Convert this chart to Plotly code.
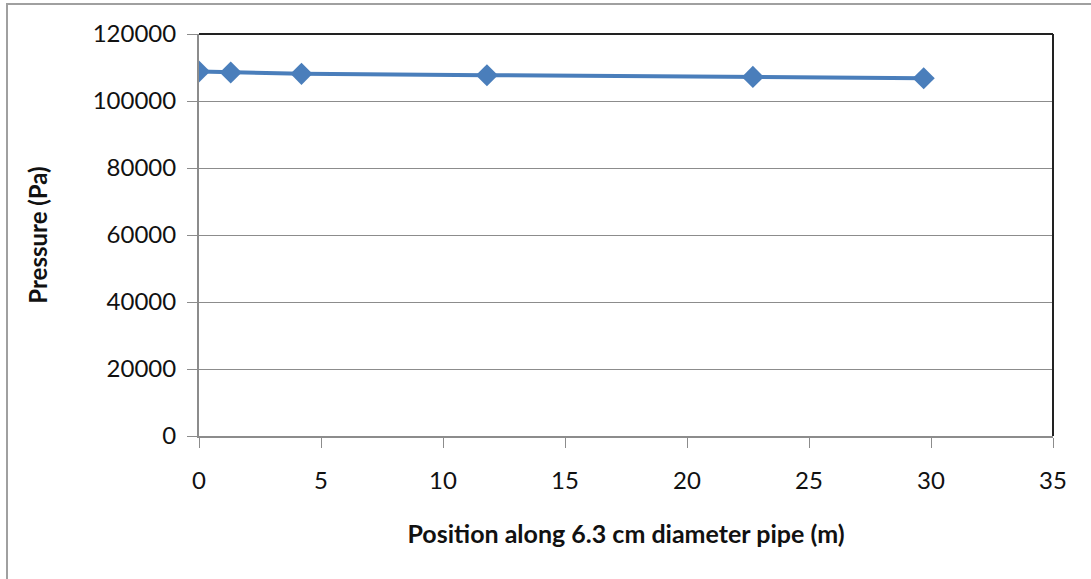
import plotly.graph_objects as go

position_m = [0, 1.3, 4.2, 11.8, 22.7, 29.7]
pressure_pa = [108800, 108500, 108100, 107700, 107200, 106800]
x_ticks = [0, 5, 10, 15, 20, 25, 30, 35]
y_ticks = [0, 20000, 40000, 60000, 80000, 100000, 120000]

FONT = "Lato"

fig = go.Figure()
fig.add_trace(go.Scatter(
    x=position_m, y=pressure_pa, mode="lines+markers",
    line=dict(color="#4A7EBB", width=4),
    marker=dict(symbol="diamond", size=17, color="#4A7EBB"),
    showlegend=False,
))

fig.update_layout(
    width=1091, height=579,
    margin=dict(l=199, r=38, t=34, b=143),
    paper_bgcolor="white", plot_bgcolor="white",
    font=dict(family=FONT, color="black"),
    xaxis=dict(
        range=[0, 35], tickvals=x_ticks, ticktext=[str(v) for v in x_ticks],
        showgrid=False, zeroline=False,
        showline=True, linecolor="#8c8c8c", linewidth=2,
        ticks="outside", ticklen=10, tickcolor="#8c8c8c", tickwidth=1,
        tickfont=dict(family=FONT, size=24, color="#111111"),
        ticklabelstandoff=12,
        title=dict(text="<b>Position along 6.3 cm diameter pipe (m)</b>",
                   font=dict(family=FONT, size=25, color="#111111"), standoff=33),
    ),
    yaxis=dict(
        range=[0, 120000], tickvals=y_ticks, ticktext=[str(v) for v in y_ticks],
        showgrid=True, gridcolor="#8c8c8c", gridwidth=1, zeroline=False,
        showline=True, linecolor="#8c8c8c", linewidth=2,
        ticks="outside", ticklen=10, tickcolor="#8c8c8c", tickwidth=1,
        tickfont=dict(family=FONT, size=24, color="#111111"),
        ticklabelstandoff=6,
        title=dict(text="<b>Pressure (Pa)</b>",
                   font=dict(family=FONT, size=24, color="#111111"), standoff=38),
    ),
    shapes=[
        dict(type="line", xref="paper", yref="paper", x0=0, x1=1, y0=1, y1=1,
             line=dict(color="#222222", width=2)),
        dict(type="line", xref="paper", yref="paper", x0=1, x1=1, y0=0, y1=1,
             line=dict(color="#222222", width=2)),
        dict(type="rect", xref="paper", yref="paper",
             x0=(7 - 199) / 854, x1=1.2, y0=(436 - 4) / 402, y1=-0.6,
             line=dict(color="#a0a0a0", width=2), layer="below"),
    ],
)

fig.write_html("out.html", config={"displayModeBar": False},
               post_script="document.body.style.margin='0';document.body.style.overflow='hidden';")
